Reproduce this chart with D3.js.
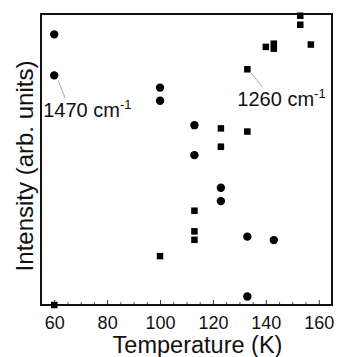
<!DOCTYPE html>
<html>
<head>
<meta charset="utf-8">
<script src="https://cdn.jsdelivr.net/npm/d3@7"></script>
<style>
  body { margin: 0; background: #fff; }
  text { font-family: 'Liberation Sans', Arial, sans-serif; fill: #111; }
</style>
</head>
<body>
<div id="chart-area"></div>
<script>
// data (intensity in arbitrary units, 0-100)
const temps1470 = [60, 60, 100, 100, 113, 113, 123, 123, 133, 133, 143];
const vals1470 = [93.0, 78.9, 74.7, 70.2, 61.8, 51.5, 40.3, 35.7, 23.5, 2.9, 22.3];

const temps1260 = [60, 100, 113, 113, 113, 123, 123, 133, 133, 140, 143, 143, 153, 153, 157];
const vals1260 = [0, 16.8, 32.4, 25.3, 22.4, 60.7, 54.4, 59.6, 81.0, 88.7, 89.8, 88.1, 99.4, 96.3, 89.5];

const xTicks = [60, 80, 100, 120, 140, 160];

// labels and which point their leader line starts from
const labels = [
  { name: '1470', t: 60, v: 78.9 },
  { name: '1260', t: 133, v: 81.0 }
];

/* window rules for the plot */
const margin = { left: 41, right: 5, top: 14, bottom: 52 };
const W = 337, H = 357;
const width = W - margin.left - margin.right;
const height = H - margin.top - margin.bottom;

const svg = d3.select('#chart-area')
  .append('svg')
  .attr('width', W)
  .attr('height', H);

const g = svg.append('g')
  .attr('transform', 'translate(' + margin.left + ', ' + margin.top + ')');

const x = d3.scaleLinear().domain([55, 165]).range([0, width]);
const y = d3.scaleLinear().domain([0, 100]).range([height, 0]);

// minor ticks every 5, inward
const minor = d3.range(55, 166, 5).filter(d => d % 20 !== 0);
g.append('g')
  .attr('transform', 'translate(0, ' + height + ')')
  .call(d3.axisBottom(x).tickValues(minor).tickSize(-3).tickFormat(''))
  .call(a => a.select('.domain').remove())
  .selectAll('line').attr('stroke', '#555');

// major ticks + labels
const xAxis = g.append('g')
  .attr('transform', 'translate(0, ' + height + ')')
  .call(d3.axisBottom(x).tickValues(xTicks).tickSize(-5).tickPadding(11));
xAxis.select('.domain').remove();
xAxis.selectAll('line').attr('stroke', '#333');
xAxis.selectAll('text')
  .attr('font-size', '18px')
  .attr('font-family', "'Liberation Sans', Arial, sans-serif")
  .attr('fill', '#111');

// frame
g.append('rect')
  .attr('x', 0)
  .attr('y', 0)
  .attr('width', width)
  .attr('height', height)
  .attr('fill', 'none')
  .attr('stroke', '#111')
  .attr('stroke-width', 2);

// axis titles
svg.append('text')
  .attr('x', margin.left + width / 2 + 11)
  .attr('y', 353)
  .attr('font-size', '23.5px')
  .attr('text-anchor', 'middle')
  .text('Temperature (K)');

svg.append('text')
  .attr('transform', 'translate(33, 166) rotate(-90)')
  .attr('font-size', '24px')
  .attr('text-anchor', 'middle')
  .text('Intensity (arb. units)');

// leader lines + labels
const lbl = g.selectAll('.lbl')
  .data(labels)
  .enter()
  .append('g')
  .attr('class', 'lbl')
  .attr('transform', d => 'translate(' + x(d.t) + ', ' + y(d.v) + ')');

lbl.append('line')
  .attr('x1', 4)
  .attr('y1', d => d.name === '1470' ? 5 : 4)
  .attr('x2', d => d.name === '1470' ? 11 : 15)
  .attr('y2', d => d.name === '1470' ? 23 : 18)
  .attr('stroke', '#aaa')
  .attr('stroke-width', 1);

const lt = lbl.append('text')
  .attr('x', d => d.name === '1470' ? -11 : -10)
  .attr('y', d => d.name === '1470' ? 42 : 37)
  .attr('font-size', '20px');
lt.append('tspan').text(d => d.name + ' cm');
lt.append('tspan')
  .attr('dy', -8)
  .attr('font-size', '13px')
  .text('-1');

// 1470 cm-1 points: circles
g.selectAll('circle')
  .data(temps1470.map((t, i) => ({ t: t, v: vals1470[i] })))
  .enter()
  .append('circle')
  .attr('cx', d => x(d.t))
  .attr('cy', d => y(d.v))
  .attr('r', 4.2)
  .attr('fill', '#000');

// 1260 cm-1 points: squares
const s = 6.5;
g.selectAll('.sq')
  .data(temps1260.map((t, i) => ({ t: t, v: vals1260[i] })))
  .enter()
  .append('rect')
  .attr('class', 'sq')
  .attr('x', d => x(d.t) - s / 2)
  .attr('y', d => y(d.v) - s / 2)
  .attr('width', s)
  .attr('height', s)
  .attr('fill', '#000');
</script>
</body>
</html>
